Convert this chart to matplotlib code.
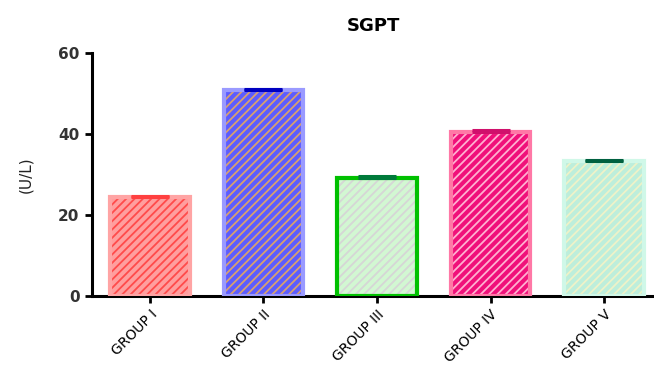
import matplotlib.pyplot as plt
import numpy as np

plt.rcParams['font.family'] = ['DejaVu Sans']
plt.rcParams['hatch.linewidth'] = 1.3

# SGPT level per group (U/L) with small error
groups = ["GROUP I", "GROUP II", "GROUP III", "GROUP IV", "GROUP V"]
sgpt = [24.4, 50.8, 29.2, 40.5, 33.3]
sem = [0.3, 0.35, 0.4, 0.6, 0.4]

# per-bar styling: fill, hatch colour, outline, error bar colour
fill_colors = ["#ff9e9e", "#5c5cff", "#d2f7d2", "#f0107a", "#bdeedb"]
hatch_colors = ["#ff4a4a", "#d8a070", "#d6d6d6", "#ffb0d0", "#eef2c8"]
edge_colors = ["#ffa4a4", "#9a9aff", "#00c000", "#ff78a6", "#d0f8e8"]
err_colors = ["#ff4040", "#0000c0", "#007a3a", "#d0106c", "#006040"]

x = np.arange(len(groups))
width = 0.70

fig = plt.figure(figsize=(6.54, 3.69), dpi=100)
ax = fig.add_axes([0.1407, 0.198, 0.8593, 0.658])

for i in range(len(groups)):
    # hatched body
    ax.bar(x[i], sgpt[i], width, color=fill_colors[i], edgecolor=hatch_colors[i],
           hatch='////', linewidth=0, zorder=2)
    # outline on top
    ax.bar(x[i], sgpt[i], width, facecolor='none', edgecolor=edge_colors[i],
           linewidth=3, zorder=3)
    # upper error bar only
    ax.errorbar(x[i], sgpt[i], yerr=[[0], [sem[i]]], fmt='none', ecolor=err_colors[i],
                elinewidth=2, capsize=14, capthick=2.2, zorder=4)

ax.set_xlim(-0.51, 4.44)
ax.set_ylim(0, 60)
ax.set_yticks([0, 20, 40, 60])
ax.set_xticks(x)
ax.set_xticklabels(groups, rotation=45, ha='right', rotation_mode='anchor',
                   fontsize=10, color='black')
for lbl in ax.get_yticklabels():
    lbl.set_fontweight('bold')
    lbl.set_fontsize(11)
    lbl.set_color('#333333')

ax.tick_params(axis='both', width=2, length=5, direction='out', pad=4)
ax.tick_params(axis='x', pad=3)
ax.set_ylabel("(U/L)", fontsize=11, color='#222222', labelpad=18)
ax.set_title("SGPT", fontsize=13, fontweight='bold', pad=16)

# Keep only left and bottom axes
ax.spines['right'].set_color('none')
ax.spines['top'].set_color('none')
ax.spines['left'].set_linewidth(2.2)
ax.spines['bottom'].set_linewidth(2.2)

fig.savefig("out.png", dpi=100)
